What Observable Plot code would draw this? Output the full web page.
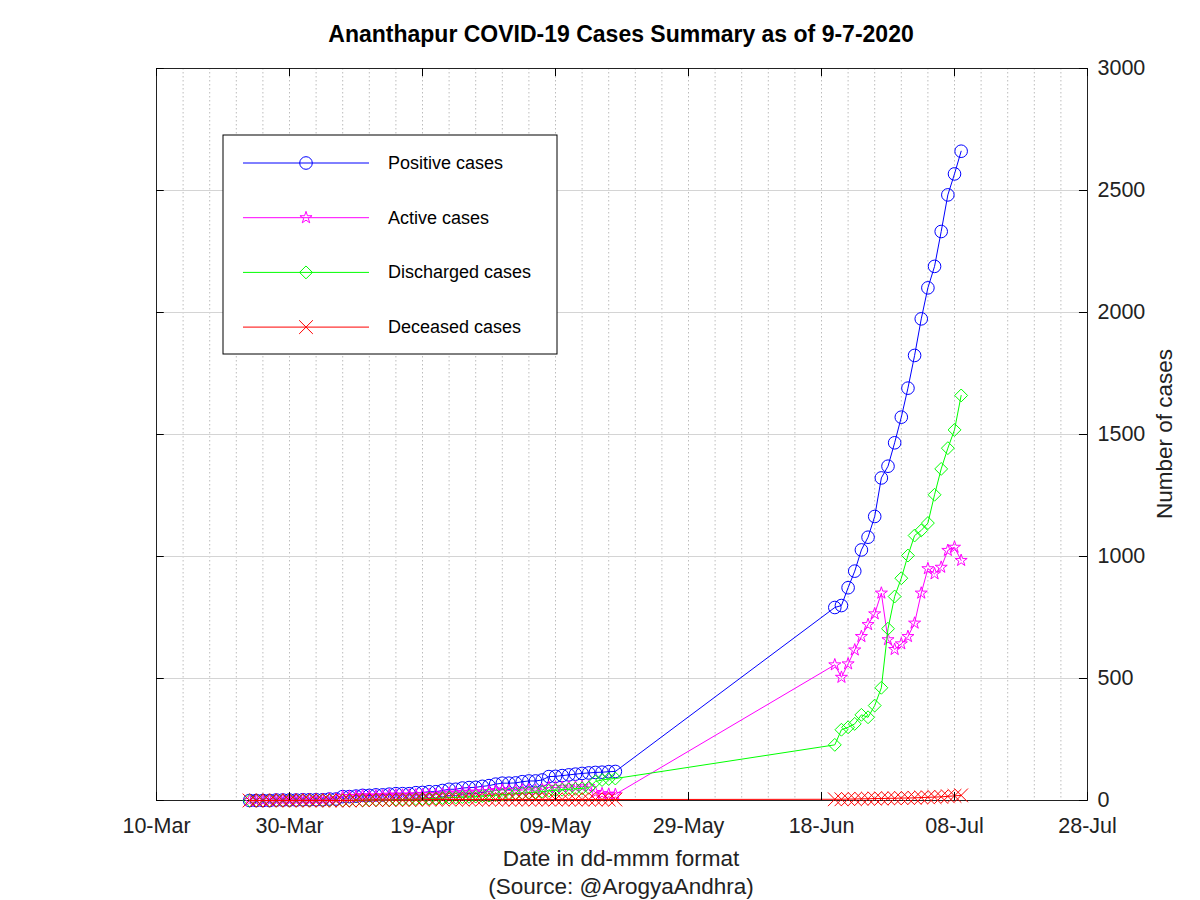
<!DOCTYPE html>
<html>
<head>
<meta charset="utf-8">
<script src="https://cdn.jsdelivr.net/npm/d3@7"></script>
<script src="https://cdn.jsdelivr.net/npm/@observablehq/plot@0.6"></script>
<style>
  body { margin: 0; background: #fff; }
  #chart { width: 1200px; height: 900px; }
</style>
</head>
<body>
<div id="chart"></div>
<script>
// ---- Data ----
const earlyStart = "2020-03-24";   // daily values 24-Mar .. 18-May
const lateStart  = "2020-06-20";   // daily values 20-Jun .. 09-Jul

const positiveEarly = [0,0,0,0,2,2,2,2,3,3,3,3,6,6,
  16,16,18,21,21,23,23,26,28,28,28,32,33,36,36,41,46,46,51,53,54,58,61,67,
  71,71,72,77,80,80,84,98,99,102,105,108,111,113,115,116,118,119];
const activeEarly = [0,0,0,0,2,2,2,2,3,3,3,3,6,6,
  16,16,17,20,17,19,19,22,22,22,22,23,24,24,24,27,30,30,33,34,34,36,37,41,
  43,41,40,43,44,42,44,54,53,54,55,56,57,57,33,28,26,25];
const dischargedEarly = [0,0,0,0,0,0,0,0,0,0,0,0,0,0,
  0,0,0,0,2,2,2,2,4,4,4,6,6,8,8,10,12,12,14,15,16,18,20,22,
  24,26,28,30,32,34,36,40,42,44,46,48,50,52,78,84,88,90];
const deceasedEarly = [0,0,0,0,0,0,0,0,0,0,0,0,0,0,
  0,0,1,1,2,2,2,2,2,2,2,3,3,4,4,4,4,4,4,4,4,4,4,4,
  4,4,4,4,4,4,4,4,4,4,4,4,4,4,4,4,4,4];

const positiveLate = [791,799,872,940,1027,1079,1164,1322,1370,1466,1571,1690,1824,1974,2101,2189,2332,2482,2568,2661];
const activeLate = [556,505,560,617,672,721,765,850,659,619,642,672,727,850,950,929,956,1025,1038,984];
const dischargedLate = [228,290,300,314,351,341,389,462,704,836,911,1004,1086,1107,1137,1253,1359,1444,1519,1660];
const deceasedLate = [5,5,6,6,7,7,8,8,9,9,10,10,11,12,13,14,15,17,19,21];

const seriesNames = ["Positive cases","Active cases","Discharged cases","Deceased cases"];
const seriesColors = ["#0000ff","#ff00ff","#00ff00","#ff0000"];
const seriesSymbols = ["circle","star","diamond2","times"];
const seriesR = [6.3, 3.8, 5.8, 6.3];

const xTickDates = ["2020-03-10","2020-03-30","2020-04-19","2020-05-09","2020-05-29","2020-06-18","2020-07-08","2020-07-28"];
const xTickLabels = ["10-Mar","30-Mar","19-Apr","09-May","29-May","18-Jun","08-Jul","28-Jul"];
const yTicks = [0,500,1000,1500,2000,2500,3000];

// ---- Build table ----
const parse = d3.utcParse("%Y-%m-%d");
const early = [positiveEarly, activeEarly, dischargedEarly, deceasedEarly];
const late = [positiveLate, activeLate, dischargedLate, deceasedLate];
const rows = [];
seriesNames.forEach((name, i) => {
  early[i].forEach((v, k) => rows.push({series: name, date: d3.utcDay.offset(parse(earlyStart), k), value: v}));
  late[i].forEach((v, k) => rows.push({series: name, date: d3.utcDay.offset(parse(lateStart), k), value: v}));
});

const xTicks = xTickDates.map(parse);
const x0 = xTicks[0], x1 = xTicks[xTicks.length - 1];
const gridDays = d3.range(0, d3.utcDay.count(x0, x1) + 1, 4).map(k => d3.utcDay.offset(x0, k));
const labelOf = new Map(xTicks.map((d, i) => [+d, xTickLabels[i]]));

const seriesMarks = seriesNames.flatMap((name, i) => {
  const data = rows.filter(r => r.series === name);
  return [
    Plot.line(data, {x: "date", y: "value", stroke: seriesColors[i], strokeWidth: 1}),
    Plot.dot(data, {x: "date", y: "value", symbol: seriesSymbols[i], r: seriesR[i],
      stroke: seriesColors[i], fill: "none", strokeWidth: 1})
  ];
});

const tickDays = 1.2, tickUnits = 33;
const chart = Plot.plot({
  width: 1200,
  height: 900,
  marginLeft: 156,
  marginRight: 113,
  marginTop: 68,
  marginBottom: 100,
  style: {fontFamily: "'Liberation Sans', Arial, sans-serif", fontSize: "21.5px", color: "#222", background: "#fff"},
  x: {type: "utc", domain: [x0, x1]},
  y: {domain: [0, 3000]},
  marks: [
    Plot.ruleX(gridDays, {stroke: "#bcbcbc", strokeDasharray: "1.5,2.5", strokeWidth: 1}),
    Plot.ruleY(yTicks.slice(1, -1), {stroke: "#d4d4d4", strokeWidth: 1}),
    Plot.frame({stroke: "#222", strokeWidth: 1}),
    ...seriesMarks,
    Plot.ruleX(xTicks, {y1: 0, y2: tickUnits, stroke: "#000"}),
    Plot.ruleX(xTicks, {y1: 3000, y2: 3000 - tickUnits, stroke: "#000"}),
    Plot.ruleY(yTicks, {x1: x0, x2: d3.utcHour.offset(x0, tickDays * 24), stroke: "#000"}),
    Plot.ruleY(yTicks, {x1: x1, x2: d3.utcHour.offset(x1, -tickDays * 24), stroke: "#000"}),
    Plot.axisX({ticks: xTicks, tickFormat: d => labelOf.get(+d), tickSize: 0, tickPadding: 17, label: null, fontSize: 21.5}),
    Plot.axisY({anchor: "right", ticks: yTicks, tickFormat: d => String(d), tickSize: 0, tickPadding: 10, label: null, fontSize: 21.5})
  ]
});

document.getElementById("chart").appendChild(chart);

// ---- Titles, labels and legend ----
const svg = d3.select(chart);
const font = "'Liberation Sans', Arial, sans-serif";
svg.append("text").attr("x", 621).attr("y", 42).attr("text-anchor", "middle")
  .attr("font-family", font).attr("font-size", 23).attr("font-weight", "bold").attr("fill", "#000")
  .text("Ananthapur COVID-19 Cases Summary as of 9-7-2020");
svg.append("text").attr("x", 621).attr("y", 866).attr("text-anchor", "middle")
  .attr("font-family", font).attr("font-size", 22.5).attr("fill", "#222")
  .text("Date in dd-mmm format");
svg.append("text").attr("x", 621).attr("y", 894).attr("text-anchor", "middle")
  .attr("font-family", font).attr("font-size", 22.5).attr("fill", "#222")
  .text("(Source: @ArogyaAndhra)");
svg.append("text").attr("transform", "translate(1172,434) rotate(-90)").attr("text-anchor", "middle")
  .attr("font-family", font).attr("font-size", 22.5).attr("fill", "#222")
  .text("Number of cases");

const legend = svg.append("g").attr("transform", "translate(223,135)");
legend.append("rect").attr("width", 334).attr("height", 219).attr("fill", "#fff").attr("stroke", "#000");
const symbolTypes = {circle: d3.symbolCircle, star: d3.symbolStar, diamond2: d3.symbolDiamond2, times: d3.symbolTimes};
seriesNames.forEach((name, i) => {
  const yy = 28 + i * 54.7;
  legend.append("line").attr("x1", 20).attr("x2", 146).attr("y1", yy).attr("y2", yy)
    .attr("stroke", seriesColors[i]).attr("stroke-width", 1);
  legend.append("path").attr("transform", `translate(83,${yy})`)
    .attr("d", d3.symbol(symbolTypes[seriesSymbols[i]], seriesR[i] * seriesR[i] * Math.PI)())
    .attr("fill", "none").attr("stroke", seriesColors[i]);
  legend.append("text").attr("x", 165).attr("y", yy + 6).attr("text-anchor", "start")
    .attr("font-family", font).attr("font-size", 18).attr("fill", "#000").text(name);
});
</script>
</body>
</html>
